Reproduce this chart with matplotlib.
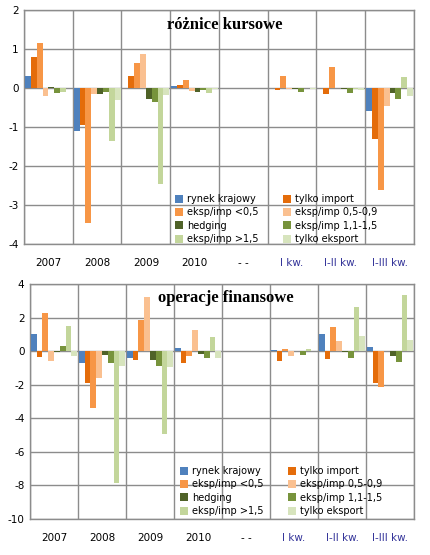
import numpy as np
import matplotlib
matplotlib.use('Agg')
import matplotlib.pyplot as plt
from matplotlib.patches import Patch

# categories on the x axis
categories = ['2007', '2008', '2009', '2010', '- -', 'I kw.', 'I-II kw.', 'I-III kw.']
cat_colors = ['black', 'black', 'black', 'black', 'black', '#333399', '#333399', '#333399']

series = ['rynek krajowy', 'tylko import', 'eksp/imp <0,5', 'eksp/imp 0,5-0,9',
          'hedging', 'eksp/imp 1,1-1,5', 'eksp/imp >1,5', 'tylko eksport']
colors = ['#4F81BD', '#E46C0A', '#F79646', '#FAC090',
          '#4F6228', '#77933C', '#C3D69B', '#D7E4BD']

# różnice kursowe (one list per series, values per category; "- -" is empty)
fx_krajowy  = [0.31, -1.11, 0.0, 0.06, np.nan, 0.0, 0.0, -0.58]
fx_import   = [0.80, -0.95, 0.31, 0.08, np.nan, -0.05, -0.15, -1.30]
fx_lt05     = [1.15, -3.47, 0.64, 0.20, np.nan, 0.31, 0.54, -2.62]
fx_05_09    = [-0.20, -0.15, 0.87, -0.07, np.nan, -0.02, 0.0, -0.47]
fx_hedging  = [0.03, -0.15, -0.28, -0.09, np.nan, -0.02, -0.03, -0.14]
fx_11_15    = [-0.12, -0.10, -0.35, -0.04, np.nan, -0.10, -0.14, -0.28]
fx_gt15     = [-0.09, -1.37, -2.45, -0.14, np.nan, -0.01, -0.03, 0.28]
fx_eksport  = [0.0, -0.31, -0.18, -0.02, np.nan, -0.02, -0.05, -0.20]

# operacje finansowe
of_krajowy  = [1.04, -0.72, -0.40, 0.20, np.nan, 0.06, 1.02, 0.28]
of_import   = [-0.32, -1.89, -0.52, -0.67, np.nan, -0.56, -0.44, -1.88]
of_lt05     = [2.29, -3.40, 1.85, -0.26, np.nan, 0.12, 1.44, -2.10]
of_05_09    = [-0.56, -1.57, 3.22, 1.25, np.nan, -0.26, 0.64, 0.0]
of_hedging  = [-0.05, -0.24, -0.50, -0.15, np.nan, 0.0, -0.05, -0.28]
of_11_15    = [0.32, -0.68, -0.85, -0.40, np.nan, -0.22, -0.38, -0.64]
of_gt15     = [1.49, -7.84, -4.94, 0.87, np.nan, 0.14, 2.66, 3.34]
of_eksport  = [-0.28, -0.87, -0.91, -0.38, np.nan, 0.03, 0.90, 0.68]

fx_data = [fx_krajowy, fx_import, fx_lt05, fx_05_09, fx_hedging, fx_11_15, fx_gt15, fx_eksport]
of_data = [of_krajowy, of_import, of_lt05, of_05_09, of_hedging, of_11_15, of_gt15, of_eksport]

grid_col = '#8C8C8C'


def draw_panel(ax, data, yticks, title, title_x, title_y):
    x = np.arange(len(categories))
    n = len(data)
    w = 0.96 / n
    for i, vals in enumerate(data):
        ax.bar(x - 0.48 + w * (i + 0.5), vals, width=w, color=colors[i], zorder=3)
    ax.set_xlim(-0.5, len(categories) - 0.5)
    ax.set_ylim(yticks[0], yticks[-1])
    ax.set_yticks(yticks)
    ax.set_yticklabels([str(t) for t in yticks], fontsize=7.5)
    ax.set_xticks(x)
    ax.set_xticklabels(categories, fontsize=7.5)
    for lbl, c in zip(ax.get_xticklabels(), cat_colors):
        lbl.set_color(c)
    # vertical lines between categories
    ax.set_xticks(np.arange(len(categories) + 1) - 0.5, minor=True)
    ax.grid(True, which='minor', axis='x', color=grid_col, lw=1, zorder=1)
    ax.grid(True, which='major', axis='y', color=grid_col, lw=1, zorder=1)
    ax.tick_params(axis='both', which='both', length=0)
    ax.tick_params(axis='x', pad=10)
    ax.tick_params(axis='y', pad=4)
    for s in ax.spines.values():
        s.set_color(grid_col)
        s.set_linewidth(1)
    ax.text(title_x, title_y, title, transform=ax.transAxes, ha='center', va='center',
            fontsize=12, fontweight='bold', family='Liberation Serif')


fig = plt.figure(figsize=(4.3, 5.55), dpi=100)

ax1 = fig.add_axes([24 / 430, 1 - 244 / 555, 390 / 430, 234 / 555])
draw_panel(ax1, fx_data, [-4, -3, -2, -1, 0, 1, 2], 'różnice kursowe', 0.515, 0.935)

ax2 = fig.add_axes([30 / 430, 1 - 519 / 555, 384 / 430, 234.7 / 555])
draw_panel(ax2, of_data, [-10, -8, -6, -4, -2, 0, 2, 4], 'operacje finansowe', 0.51, 0.94)

# legend fills columns first: left column even series, right column odd series
order = list(range(0, 8, 2)) + list(range(1, 8, 2))
handles = [Patch(facecolor=colors[i], edgecolor='none') for i in order]
labels = [series[i] for i in order]
for lx, ly in [(175, 194), (180, 466)]:
    fig.legend(handles, labels, ncol=2, loc='upper left',
               bbox_to_anchor=(lx / 430, 1 - ly / 555), frameon=False,
               fontsize=7, handlelength=0.8, handleheight=0.9, handletextpad=0.4,
               labelspacing=0.35, columnspacing=2.6, borderpad=0, borderaxespad=0)

fig.savefig('out.png', dpi=100)
